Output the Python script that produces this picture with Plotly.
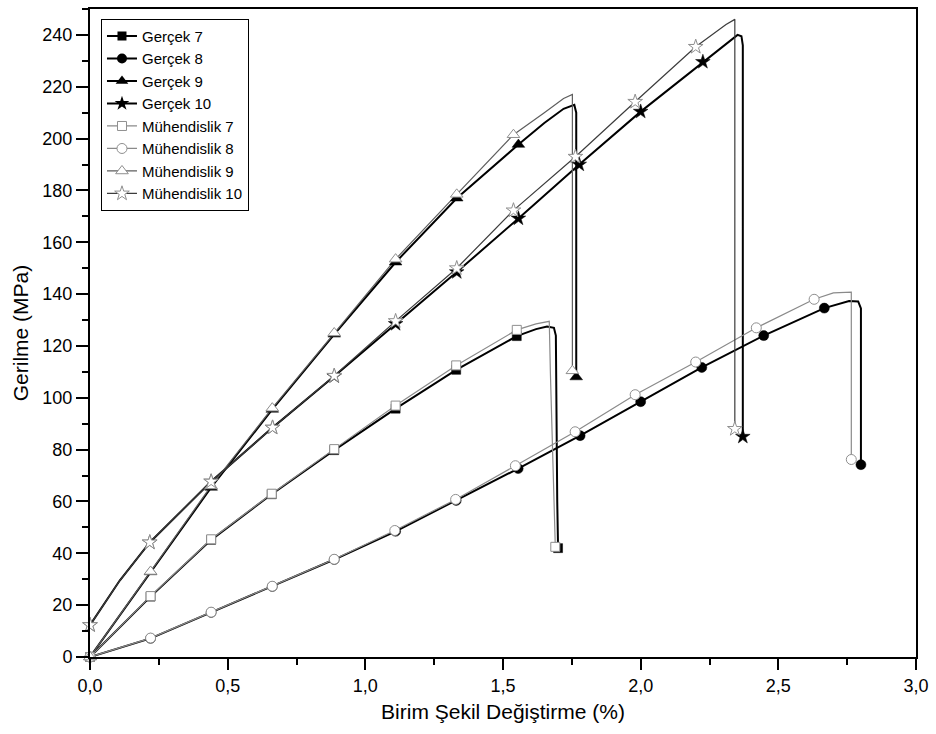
import plotly.graph_objects as go

# ---- stress-strain data (strain in %, stress in MPa) ----
# Gerçek (true) curves
strain_g7 = [0, 0.22, 0.44, 0.66, 0.887, 1.11, 1.33, 1.55, 1.62, 1.66, 1.685, 1.692, 1.697, 1.70]
stress_g7 = [0, 23.3, 45.2, 62.8, 79.8, 95.8, 110.8, 123.8, 126.5, 127.5, 127.0, 124.0, 60.0, 42.0]
marks_g7 = [0, 1, 2, 3, 4, 5, 6, 7, 13]

strain_g8 = [0, 0.22, 0.44, 0.662, 0.887, 1.11, 1.33, 1.555, 1.78, 2.0, 2.222, 2.447, 2.667, 2.757, 2.79, 2.80, 2.80]
stress_g8 = [0, 7.2, 17.2, 27.2, 37.6, 48.5, 60.4, 72.7, 85.4, 98.5, 111.7, 124.0, 134.6, 137.3, 137.2, 134.5, 74.2]
marks_g8 = [0, 1, 2, 3, 4, 5, 6, 7, 8, 9, 10, 11, 12, 16]

strain_g9 = [0, 0.22, 0.44, 0.662, 0.887, 1.11, 1.332, 1.556, 1.65, 1.72, 1.759, 1.766, 1.766]
stress_g9 = [0, 32.8, 65.4, 95.5, 124.5, 152.3, 177.0, 197.7, 206.0, 211.5, 213.0, 210.0, 108.0]
marks_g9 = [0, 1, 2, 3, 4, 5, 6, 7, 12]

strain_g10 = [0, 0.108, 0.217, 0.44, 0.663, 0.887, 1.11, 1.332, 1.556, 1.777, 2.0, 2.226, 2.32, 2.352, 2.366, 2.371, 2.371]
stress_g10 = [12.3, 29.5, 44.2, 67.7, 88.5, 108.3, 128.5, 148.5, 169.2, 190.0, 210.4, 229.6, 237.5, 240.0, 239.5, 236.0, 85.0]
marks_g10 = [0, 2, 3, 4, 5, 6, 7, 8, 9, 10, 11, 16]

# Mühendislik (engineering) curves
strain_m7 = [0, 0.22, 0.44, 0.66, 0.887, 1.11, 1.33, 1.55, 1.62, 1.668, 1.672, 1.685, 1.69]
stress_m7 = [0, 23.5, 45.4, 63.0, 80.2, 97.0, 112.5, 126.2, 128.5, 129.5, 110.0, 55.0, 42.5]
marks_m7 = [0, 1, 2, 3, 4, 5, 6, 7, 12]

strain_m8 = [0, 0.22, 0.44, 0.662, 0.887, 1.107, 1.328, 1.545, 1.762, 1.98, 2.2, 2.42, 2.63, 2.70, 2.765, 2.765]
stress_m8 = [0, 7.3, 17.3, 27.3, 37.7, 48.8, 60.8, 73.8, 86.9, 101.2, 113.8, 127.0, 138.0, 140.5, 140.8, 76.2]
marks_m8 = [0, 1, 2, 3, 4, 5, 6, 7, 8, 9, 10, 11, 12, 15]

strain_m9 = [0, 0.22, 0.44, 0.662, 0.887, 1.11, 1.332, 1.538, 1.65, 1.72, 1.752, 1.752]
stress_m9 = [0, 33.0, 66.0, 96.0, 125.0, 153.5, 178.5, 201.5, 210.0, 215.5, 217.0, 110.4]
marks_m9 = [0, 1, 2, 3, 4, 5, 6, 7, 11]

strain_m10 = [0, 0.108, 0.217, 0.44, 0.663, 0.887, 1.11, 1.332, 1.538, 1.763, 1.98, 2.2, 2.31, 2.342, 2.342]
stress_m10 = [12.3, 29.5, 44.2, 67.7, 88.5, 108.5, 129.6, 150.0, 172.3, 193.0, 214.2, 235.4, 244.0, 246.0, 88.0]
marks_m10 = [0, 2, 3, 4, 5, 6, 7, 8, 9, 10, 11, 14]

FONT = "Liberation Sans, Arial, sans-serif"

gercek = [
    ("Gerçek 7", strain_g7, stress_g7, marks_g7, "square", 9),
    ("Gerçek 8", strain_g8, stress_g8, marks_g8, "circle", 10),
    ("Gerçek 9", strain_g9, stress_g9, marks_g9, "triangle-up", 11),
    ("Gerçek 10", strain_g10, stress_g10, marks_g10, "star", 11),
]
muhendislik = [
    ("Mühendislik 7", strain_m7, stress_m7, marks_m7, "square", 9, "#8a8a8a"),
    ("Mühendislik 8", strain_m8, stress_m8, marks_m8, "circle", 10, "#8a8a8a"),
    ("Mühendislik 9", strain_m9, stress_m9, marks_m9, "triangle-up", 11, "#5e5e5e"),
    ("Mühendislik 10", strain_m10, stress_m10, marks_m10, "star", 11, "#3c3c3c"),
]

fig = go.Figure()

# lines: true curves first, engineering curves drawn over them
for name, xs, ys, mk, sym, sz in gercek:
    fig.add_trace(go.Scatter(x=xs, y=ys, mode="lines", showlegend=False,
                             line=dict(color="black", width=2), hoverinfo="skip"))
for name, xs, ys, mk, sym, sz, col in muhendislik:
    fig.add_trace(go.Scatter(x=xs, y=ys, mode="lines", showlegend=False,
                             line=dict(color=col, width=1.2), hoverinfo="skip"))

# markers
for name, xs, ys, mk, sym, sz in gercek:
    fig.add_trace(go.Scatter(x=[xs[i] for i in mk], y=[ys[i] for i in mk], mode="markers",
                             showlegend=False, cliponaxis=False,
                             marker=dict(symbol=sym, size=sz, color="black",
                                         line=dict(color="black", width=0.5))))
for name, xs, ys, mk, sym, sz, col in muhendislik:
    fig.add_trace(go.Scatter(x=[xs[i] for i in mk], y=[ys[i] for i in mk], mode="markers",
                             showlegend=False, cliponaxis=False,
                             marker=dict(symbol=sym, size=sz, color="white",
                                         line=dict(color="#8f8f8f", width=1))))

# legend entries
for name, xs, ys, mk, sym, sz in gercek:
    fig.add_trace(go.Scatter(x=[None], y=[None], mode="lines+markers", name=name,
                             line=dict(color="black", width=2),
                             marker=dict(symbol=sym, size=sz, color="black")))
for name, xs, ys, mk, sym, sz, col in muhendislik:
    fig.add_trace(go.Scatter(x=[None], y=[None], mode="lines+markers", name=name,
                             line=dict(color=col, width=1.2),
                             marker=dict(symbol=sym, size=sz, color="white",
                                         line=dict(color="#8f8f8f", width=1))))

axis_common = dict(
    showgrid=False, zeroline=False, showline=True, linecolor="black", linewidth=2,
    mirror=True, ticks="outside", tickcolor="black", tickwidth=2,
    tickfont=dict(family=FONT, size=18, color="black"),
)

fig.update_layout(
    width=936, height=734,
    margin=dict(l=90, r=17, t=7, b=77),
    paper_bgcolor="white", plot_bgcolor="white",
    separators=",.",
    font=dict(family=FONT, color="black"),
    xaxis=dict(
        range=[0, 3], dtick=0.5, tick0=0, tickformat=".1f", ticklen=11,
        minor=dict(dtick=0.25, ticklen=6, tickwidth=2, ticks="outside", tickcolor="black"),
        title=dict(text="Birim Şekil Değiştirme (%)", font=dict(family=FONT, size=21), standoff=10),
        **axis_common,
    ),
    yaxis=dict(
        range=[0, 250], dtick=20, tick0=0, ticklen=12,
        minor=dict(dtick=10, ticklen=6, tickwidth=2, ticks="outside", tickcolor="black"),
        title=dict(text="Gerilme (MPa)", font=dict(family=FONT, size=21), standoff=8),
        **axis_common,
    ),
    legend=dict(
        x=0.0133, y=0.985, xanchor="left", yanchor="top",
        bgcolor="white", bordercolor="black", borderwidth=1,
        font=dict(family=FONT, size=15, color="black"),
        tracegroupgap=0, itemwidth=30,
    ),
)

fig.write_html("out.html")
